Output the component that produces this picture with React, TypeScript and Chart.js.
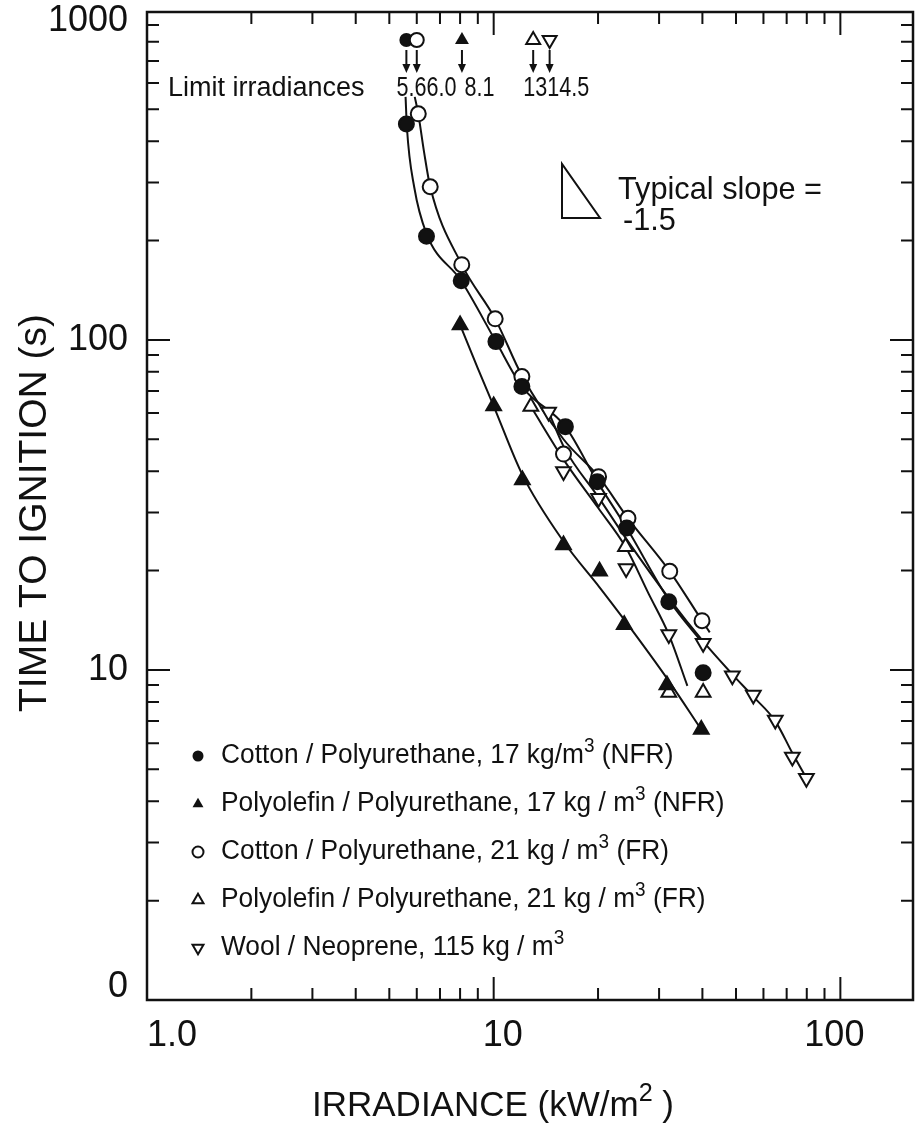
import React, { useEffect, useRef } from 'react';
import { Chart, registerables } from 'chart.js';

Chart.register(...registerables);

// ---- axis ranges & ticks ----
const X_MIN = 1;
const X_MAX = 162;
const Y_MIN = 1;
const Y_MAX = 985;
const xTickValues = [1, 10, 100];
const xTickLabels = ['1.0', '10', '100'];
const yTickValues = [1, 10, 100, 1000];
const yTickLabels = ['0', '10', '100', '1000'];

// ---- measured points ----
const cottonNfrX = [5.6, 6.4, 8.06, 10.15, 12.06, 16.1, 19.9, 24.2, 32.0, 40.2];
const cottonNfrY = [451, 206, 151, 98.8, 72.2, 54.6, 37.2, 26.9, 16.1, 9.8];
const polyNfrX = [8.0, 10.0, 12.1, 15.9, 20.2, 23.8, 31.6, 39.7];
const polyNfrY = [111, 63, 37.6, 23.9, 19.9, 13.7, 9.0, 6.6];
const cottonFrX = [6.06, 6.56, 8.09, 10.1, 12.06, 15.9, 20.07, 24.4, 32.2, 39.9];
const cottonFrY = [484, 291, 169, 115.8, 77.4, 45.1, 38.5, 28.8, 19.9, 14.1];
const polyFrX = [12.8, 24.0, 32.0, 40.2];
const polyFrY = [62.8, 23.6, 8.54, 8.54];
const woolX = [14.4, 15.9, 20.07, 24.1, 32.0, 40.2, 48.8, 56.1, 64.9, 72.7, 79.8];
const woolY = [60.5, 39.9, 33.1, 20.3, 12.8, 12.05, 9.6, 8.4, 7.05, 5.45, 4.7];

// ---- fitted curves ----
const cottonNfrFitX = [5.57, 5.62, 5.9, 6.4, 8.06, 10.15, 12.06, 16.1, 19.9, 24.2, 32.0, 40.5];
const cottonNfrFitY = [545, 440, 290, 210, 151, 98.8, 72.2, 54.6, 37.2, 26.9, 16.3, 11.9];
const cottonFrFitX = [5.92, 6.06, 6.3, 6.56, 8.09, 10.1, 12.06, 15.9, 20.07, 24.4, 32.2, 39.9, 42];
const cottonFrFitY = [545, 484, 370, 291, 169, 115.8, 78, 50, 38.5, 28.8, 19.9, 14.1, 13.0];
const polyNfrFitX = [8.0, 9.0, 10.0, 12.1, 15.9, 20.2, 23.8, 31.9, 39.7];
const polyNfrFitY = [111, 82, 63, 39, 24.5, 17.8, 14.2, 9.3, 6.6];
const polyFrFitX = [12.8, 16, 20, 24, 28, 32, 36.2];
const polyFrFitY = [62.8, 43, 31, 23.6, 17, 12.8, 8.95];
const woolFitX = [14.4, 16, 20, 24.1, 32, 40.2, 48.8, 56.1, 64.9, 72.7, 79.8];
const woolFitY = [60.5, 47, 33.5, 25, 16.5, 12.2, 9.7, 8.3, 7.0, 5.6, 4.7];

// ---- limit irradiances ----
const limitValues = [5.6, 6.0, 8.1, 13, 14.5];
const limitLabels = ['5.6', '6.0', '8.1', '13', '14.5'];
const limitStyles = ['fc', 'oc', 'ft', 'ot', 'od'];

// ---- legend ----
const legendStyles = ['fc', 'ft', 'oc', 'ot', 'od'];
const legendMain = [
  'Cotton / Polyurethane, 17 kg/m',
  'Polyolefin / Polyurethane, 17 kg / m',
  'Cotton / Polyurethane, 21 kg / m',
  'Polyolefin / Polyurethane, 21 kg / m',
  'Wool / Neoprene, 115 kg / m',
];
const legendSup = ['3', '3', '3', '3', '3'];
const legendTail = [' (NFR)', ' (NFR)', ' (FR)', ' (FR)', ''];

const FONT = '"Liberation Sans", Arial, Helvetica, sans-serif';

function pts(xs: number[], ys: number[]) {
  return xs.map((x, i) => ({ x, y: ys[i] }));
}

function drawMarker(ctx: CanvasRenderingContext2D, style: string, x: number, y: number, r: number) {
  ctx.save();
  ctx.lineWidth = 2;
  ctx.strokeStyle = '#111';
  ctx.beginPath();
  if (style === 'fc' || style === 'oc') {
    ctx.arc(x, y, r, 0, Math.PI * 2);
  } else {
    const s = style === 'od' ? -1 : 1;
    const R = r * 1.15;
    ctx.moveTo(x, y - s * R);
    ctx.lineTo(x + R * 0.866, y + s * R * 0.5);
    ctx.lineTo(x - R * 0.866, y + s * R * 0.5);
    ctx.closePath();
  }
  if (style === 'fc' || style === 'ft') {
    ctx.fillStyle = '#111';
    ctx.fill();
  } else {
    ctx.fillStyle = '#fff';
    ctx.fill();
    ctx.stroke();
  }
  ctx.restore();
}

function text(
  ctx: CanvasRenderingContext2D,
  s: string,
  x: number,
  y: number,
  size: number,
  sx = 1,
  align: 'left' | 'center' | 'right' = 'left'
) {
  ctx.save();
  ctx.font = `${size}px ${FONT}`;
  const w = ctx.measureText(s).width * sx;
  const x0 = align === 'center' ? x - w / 2 : align === 'right' ? x - w : x;
  ctx.translate(x0, y);
  ctx.scale(sx, 1);
  ctx.textAlign = 'left';
  ctx.textBaseline = 'middle';
  ctx.fillStyle = '#111';
  ctx.fillText(s, 0, 0);
  ctx.restore();
  return w;
}

function rich(
  ctx: CanvasRenderingContext2D,
  parts: { t: string; sup?: boolean }[],
  x: number,
  y: number,
  size: number,
  sx = 1,
  align: 'left' | 'center' = 'left'
) {
  ctx.save();
  let total = 0;
  for (const p of parts) {
    ctx.font = `${p.sup ? size * 0.72 : size}px ${FONT}`;
    total += ctx.measureText(p.t).width * sx;
  }
  ctx.restore();
  let cx = align === 'center' ? x - total / 2 : x;
  for (const p of parts) {
    const sz = p.sup ? size * 0.72 : size;
    cx += text(ctx, p.t, cx, p.sup ? y - size * 0.33 : y, sz, sx);
  }
  return total;
}

const decorPlugin = {
  id: 'decor',
  afterDraw(chart: any) {
    const ctx: CanvasRenderingContext2D = chart.ctx;
    const { left, right, top, bottom } = chart.chartArea;
    const xs = chart.scales.x;
    const ys = chart.scales.y;
    ctx.save();
    ctx.strokeStyle = '#111';
    ctx.fillStyle = '#111';
    // frame
    ctx.lineWidth = 2.5;
    ctx.strokeRect(left, top, right - left, bottom - top);
    // ticks
    ctx.lineWidth = 2;
    ctx.beginPath();
    for (const d of [1, 10, 100, 1000]) {
      for (let k = 1; k <= 9; k++) {
        const v = d * k;
        const len = k === 1 ? 23 : 12;
        if (v > X_MIN && v < X_MAX) {
          const px = xs.getPixelForValue(v);
          ctx.moveTo(px, bottom);
          ctx.lineTo(px, bottom - len);
          ctx.moveTo(px, top);
          ctx.lineTo(px, top + len);
        }
        if (v > Y_MIN && v < Y_MAX) {
          const py = ys.getPixelForValue(v);
          ctx.moveTo(left, py);
          ctx.lineTo(left + len, py);
          ctx.moveTo(right, py);
          ctx.lineTo(right - len, py);
        }
      }
    }
    ctx.stroke();
    // tick labels
    const xOff = [25, 9, -6];
    xTickValues.forEach((v, i) => {
      text(ctx, xTickLabels[i], xs.getPixelForValue(v) + xOff[i], 1036, 36, 1, 'center');
    });
    yTickValues.forEach((v, i) => {
      const py = Math.min(Math.max(ys.getPixelForValue(v), top + 9), bottom - 13);
      text(ctx, yTickLabels[i], 128, py, 36, 1, 'right');
    });
    // axis titles
    rich(ctx, [{ t: 'IRRADIANCE (kW/m' }, { t: '2', sup: true }, { t: ' )' }], 493, 1106, 35, 1, 'center');
    ctx.save();
    ctx.translate(35, 513);
    ctx.rotate(-Math.PI / 2);
    text(ctx, 'TIME TO IGNITION (s)', 0, 0, 39, 1.0, 'center');
    ctx.restore();

    // limit irradiances
    let prevEnd = 0;
    limitValues.forEach((v, i) => {
      const px = xs.getPixelForValue(v);
      drawMarker(ctx, limitStyles[i], px, 40, 7);
      ctx.lineWidth = 2;
      ctx.beginPath();
      ctx.moveTo(px, 50);
      ctx.lineTo(px, 66);
      ctx.stroke();
      ctx.beginPath();
      ctx.moveTo(px - 4, 64);
      ctx.lineTo(px + 4, 64);
      ctx.lineTo(px, 73);
      ctx.closePath();
      ctx.fill();
      const gap = i === 1 || i === 4 ? 0 : 8;
      const x0 = Math.max(px - 10, prevEnd + gap);
      prevEnd = x0 + text(ctx, limitLabels[i], x0, 89, 27, 0.8);
    });
    text(ctx, 'Limit irradiances', 168, 89, 27, 1.0);

    // typical slope triangle
    ctx.lineWidth = 2;
    ctx.beginPath();
    ctx.moveTo(562, 164);
    ctx.lineTo(562, 218);
    ctx.lineTo(600, 218);
    ctx.closePath();
    ctx.stroke();
    text(ctx, 'Typical slope =', 618, 190, 32, 0.96);
    text(ctx, '-1.5', 623, 221, 32, 0.96);

    // legend
    legendMain.forEach((s, i) => {
      const y = 756 + i * 48;
      drawMarker(ctx, legendStyles[i], 198, y, 5.5);
      const parts: { t: string; sup?: boolean }[] = [{ t: s }, { t: legendSup[i], sup: true }];
      if (legendTail[i]) parts.push({ t: legendTail[i] });
      rich(ctx, parts, 221, y, 27, 0.975);
    });
    ctx.restore();
  },
};

export default function App() {
  const ref = useRef<HTMLCanvasElement | null>(null);
  useEffect(() => {
    if (!ref.current) return;
    const black = '#111';
    const curve = (xs: number[], ys: number[]) => ({
      type: 'line' as const,
      data: pts(xs, ys),
      borderColor: black,
      borderWidth: 2,
      pointRadius: 0,
      fill: false,
      cubicInterpolationMode: 'monotone' as const,
      order: 2,
    });
    const marks = (xs: number[], ys: number[], style: string) => ({
      type: 'scatter' as const,
      data: pts(xs, ys),
      showLine: false,
      pointStyle: style === 'fc' || style === 'oc' ? 'circle' : 'triangle',
      rotation: style === 'od' ? 180 : 0,
      pointRadius: style === 'fc' || style === 'oc' ? 7.5 : 8.5,
      pointBorderWidth: 2,
      pointBorderColor: black,
      pointBackgroundColor: style === 'fc' || style === 'ft' ? black : '#fff',
      borderColor: black,
      backgroundColor: style === 'fc' || style === 'ft' ? black : '#fff',
      order: 1,
    });
    const chart = new Chart(ref.current, {
      type: 'scatter',
      data: {
        datasets: [
          curve(cottonNfrFitX, cottonNfrFitY),
          curve(cottonFrFitX, cottonFrFitY),
          curve(polyNfrFitX, polyNfrFitY),
          curve(polyFrFitX, polyFrFitY),
          curve(woolFitX, woolFitY),
          marks(cottonNfrX, cottonNfrY, 'fc'),
          marks(polyNfrX, polyNfrY, 'ft'),
          marks(cottonFrX, cottonFrY, 'oc'),
          marks(polyFrX, polyFrY, 'ot'),
          marks(woolX, woolY, 'od'),
        ] as any,
      },
      options: {
        responsive: false,
        animation: false,
        devicePixelRatio: 1,
        events: [],
        layout: { autoPadding: false, padding: { left: 147, top: 12, right: 4, bottom: 141 } },
        plugins: { legend: { display: false }, tooltip: { enabled: false } },
        scales: {
          x: { type: 'logarithmic', min: X_MIN, max: X_MAX, display: false },
          y: { type: 'logarithmic', min: Y_MIN, max: Y_MAX, display: false },
        },
      },
      plugins: [decorPlugin],
    });
    return () => chart.destroy();
  }, []);
  return (
    <div style={{ position: 'absolute', left: 0, top: 0, width: 917, height: 1141, background: '#fff' }}>
      <canvas ref={ref} width={917} height={1141} style={{ display: 'block' }} />
    </div>
  );
}
